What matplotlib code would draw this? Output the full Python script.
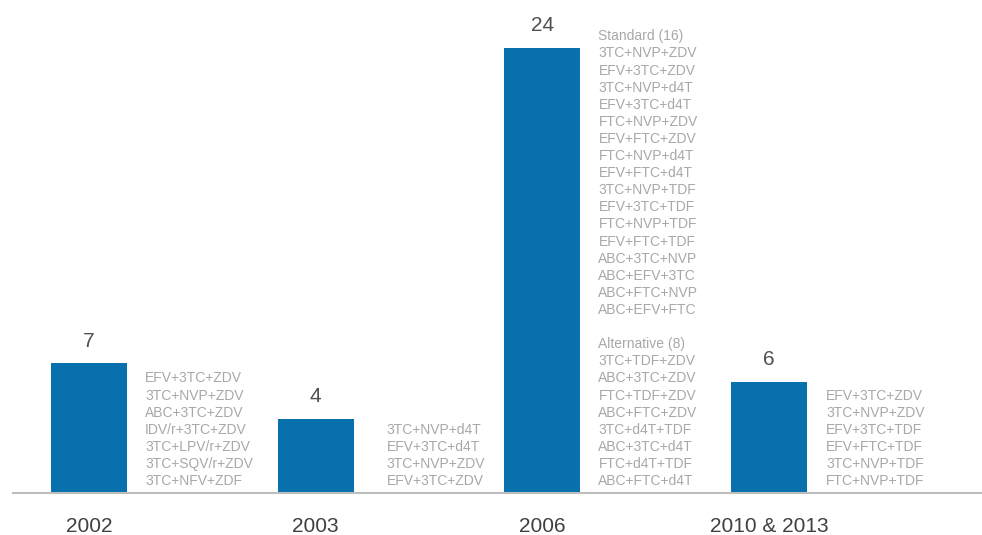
import matplotlib.pyplot as plt
import numpy as np

plt.rcParams['font.family'] = ['Liberation Sans', 'DejaVu Sans']

# data
years = ['2002', '2003', '2006', '2010 & 2013']
counts = [7, 4, 24, 6]
regimens = [
    ['EFV+3TC+ZDV', '3TC+NVP+ZDV', 'ABC+3TC+ZDV', 'IDV/r+3TC+ZDV',
     '3TC+LPV/r+ZDV', '3TC+SQV/r+ZDV', '3TC+NFV+ZDF'],
    ['3TC+NVP+d4T', 'EFV+3TC+d4T', '3TC+NVP+ZDV', 'EFV+3TC+ZDV'],
    ['Standard (16)', '3TC+NVP+ZDV', 'EFV+3TC+ZDV', '3TC+NVP+d4T', 'EFV+3TC+d4T',
     'FTC+NVP+ZDV', 'EFV+FTC+ZDV', 'FTC+NVP+d4T', 'EFV+FTC+d4T', '3TC+NVP+TDF',
     'EFV+3TC+TDF', 'FTC+NVP+TDF', 'EFV+FTC+TDF', 'ABC+3TC+NVP', 'ABC+EFV+3TC',
     'ABC+FTC+NVP', 'ABC+EFV+FTC', '',
     'Alternative (8)', '3TC+TDF+ZDV', 'ABC+3TC+ZDV', 'FTC+TDF+ZDV', 'ABC+FTC+ZDV',
     '3TC+d4T+TDF', 'ABC+3TC+d4T', 'FTC+d4T+TDF', 'ABC+FTC+d4T'],
    ['EFV+3TC+ZDV', '3TC+NVP+ZDV', 'EFV+3TC+TDF', 'EFV+FTC+TDF',
     '3TC+NVP+TDF', 'FTC+NVP+TDF'],
]


def main():
    fig = plt.figure(figsize=(9.82, 5.35), dpi=100)
    # axes spans the baseline from x=13px to 982px, baseline at y=493px
    ax = fig.add_axes([13 / 982, 42 / 535, 969 / 982, 483 / 535])

    x = np.arange(len(years))
    px = 226.7  # pixels per category
    py = (493 - 48) / 24  # pixels per unit
    ax.set_xlim(-76 / px, 3 + 893 / px - 3 * 226.7 / px)
    ax.set_ylim(0, 483 / py)

    ax.bar(x, counts, width=76 / px, color='#0870ad', zorder=2)

    for s in ['top', 'right', 'left']:
        ax.spines[s].set_visible(False)
    ax.spines['bottom'].set_color('#bdbdbd')
    ax.spines['bottom'].set_linewidth(1.5)
    ax.set_xticks([])
    ax.set_yticks([])

    text_dx = [0.247, 0.313, 0.247, 0.251]
    line_h = 17.1 / py
    for xi, c, yr, regs, dx in zip(x, counts, years, regimens, text_dx):
        ax.text(xi, c + 22 / py, str(c), ha='center', va='center',
                fontsize=15, color='#505050')
        ax.text(xi, -34 / py, yr, ha='center', va='center',
                fontsize=15, color='#404040', clip_on=False)
        n = len(regs)
        for k, r in enumerate(regs):
            yy = 12 / py + (n - 1 - k) * line_h
            ax.text(xi + dx, yy, r, ha='left', va='center',
                    fontsize=10, color='#a8a8a8')

    fig.savefig('out.png', dpi=100)


if __name__ == '__main__':
    main()
